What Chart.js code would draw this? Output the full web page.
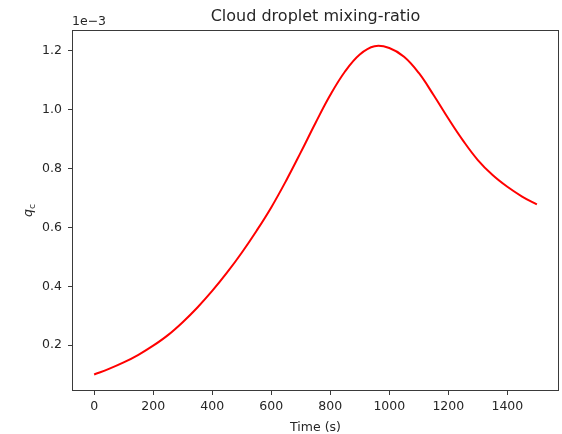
<!DOCTYPE html>
<html>
<head>
<meta charset="utf-8">
<script src="https://cdn.jsdelivr.net/npm/chart.js@4.4.1/dist/chart.umd.min.js"></script>
<style>
    body { margin: 0; background: #fff; }
    canvas { display: block; }
</style>
</head>
<body>
<canvas id="qcChart" width="562" height="434"></canvas>
<script>
// time in seconds, qc in units of 1e-3
const times = [0, 50, 100, 150, 200, 250, 300, 350, 400, 450, 500, 550, 600, 650, 700, 750,
    800, 850, 900, 950, 1000, 1050, 1100, 1150, 1200, 1250, 1300, 1350, 1400, 1450, 1500];
const qc = [0.100, 0.119, 0.141, 0.167, 0.198, 0.234, 0.278, 0.328, 0.384, 0.446, 0.514, 0.588,
    0.668, 0.758, 0.855, 0.955, 1.050, 1.130, 1.188, 1.216, 1.210, 1.180, 1.125, 1.050,
    0.970, 0.895, 0.829, 0.778, 0.738, 0.705, 0.678];
const xTicks = [0, 200, 400, 600, 800, 1000, 1200, 1400];
const yTicks = [0.2, 0.4, 0.6, 0.8, 1.0, 1.2];
const xLimits = [-75, 1575];
const yLimits = [0.044, 1.271];
const offsetText = '1e\u22123';

const FONT = '"DejaVu Sans", sans-serif';
const TEXT_COLOR = '#262626';

const textPlugin = {
    id: 'mplText',
    afterDraw: (chart) => {
        const ctx = chart.ctx;
        const area = chart.chartArea;
        ctx.save();
        // axes frame
        ctx.strokeStyle = '#3a3a3a';
        ctx.lineWidth = 1;
        ctx.strokeRect(area.left + 0.5, area.top + 0.5, area.right - area.left - 1, area.bottom - area.top - 1);

        ctx.fillStyle = TEXT_COLOR;
        const cx = (area.left + area.right) / 2;

        // title
        ctx.font = '16px ' + FONT;
        ctx.textAlign = 'center';
        ctx.textBaseline = 'alphabetic';
        ctx.fillText('Cloud droplet mixing-ratio', cx, 21);

        // offset text
        ctx.font = '12.5px ' + FONT;
        ctx.textAlign = 'left';
        ctx.fillText(offsetText, area.left, 25);

        // x label
        ctx.textAlign = 'center';
        ctx.fillText('Time (s)', cx, 431);

        // y label, q with subscript c
        const cy = (area.top + area.bottom) / 2;
        ctx.translate(32, cy);
        ctx.rotate(-Math.PI / 2);
        ctx.font = 'italic 12.5px ' + FONT;
        const wq = ctx.measureText('q').width;
        ctx.font = '9px ' + FONT;
        const wc = ctx.measureText('c').width;
        const start = -(wq + wc) / 2;
        ctx.textAlign = 'left';
        ctx.font = 'italic 12.5px ' + FONT;
        ctx.fillText('q', start, 0);
        ctx.font = '9px ' + FONT;
        ctx.fillText('c', start + wq, 3);
        ctx.restore();
    }
};

const ctx = document.getElementById('qcChart').getContext('2d');
new Chart(ctx, {
    type: 'line',
    data: {
        datasets: [{
            data: times.map((t, i) => ({ x: t, y: qc[i] })),
            borderColor: '#ff0000',
            borderWidth: 2,
            pointRadius: 0,
            fill: false,
            tension: 0.4
        }]
    },
    options: {
        responsive: false,
        animation: false,
        devicePixelRatio: 1,
        layout: {
            padding: { top: 30, right: 3, left: 0, bottom: 0 }
        },
        plugins: {
            legend: { display: false },
            tooltip: { enabled: false },
            title: { display: false }
        },
        scales: {
            x: {
                type: 'linear',
                min: xLimits[0],
                max: xLimits[1],
                afterBuildTicks: (scale) => {
                    scale.ticks = xTicks.map(v => ({ value: v }));
                },
                afterFit: (scale) => {
                    scale.height = 43;
                },
                border: { display: false },
                grid: {
                    drawOnChartArea: false,
                    drawTicks: true,
                    tickLength: 4,
                    color: '#3a3a3a'
                },
                ticks: {
                    padding: 4,
                    maxRotation: 0,
                    autoSkip: false,
                    color: TEXT_COLOR,
                    font: { family: FONT, size: 12.5 },
                    callback: (v) => v.toFixed(0)
                }
            },
            y: {
                type: 'linear',
                min: yLimits[0],
                max: yLimits[1],
                afterBuildTicks: (scale) => {
                    scale.ticks = yTicks.map(v => ({ value: v }));
                },
                afterFit: (scale) => {
                    scale.width = 72;
                },
                border: { display: false },
                grid: {
                    drawOnChartArea: false,
                    drawTicks: true,
                    tickLength: 4,
                    color: '#3a3a3a'
                },
                ticks: {
                    padding: 6,
                    autoSkip: false,
                    color: TEXT_COLOR,
                    font: { family: FONT, size: 12.5 },
                    callback: (v) => v.toFixed(1)
                }
            }
        }
    },
    plugins: [textPlugin]
});
</script>
</body>
</html>
